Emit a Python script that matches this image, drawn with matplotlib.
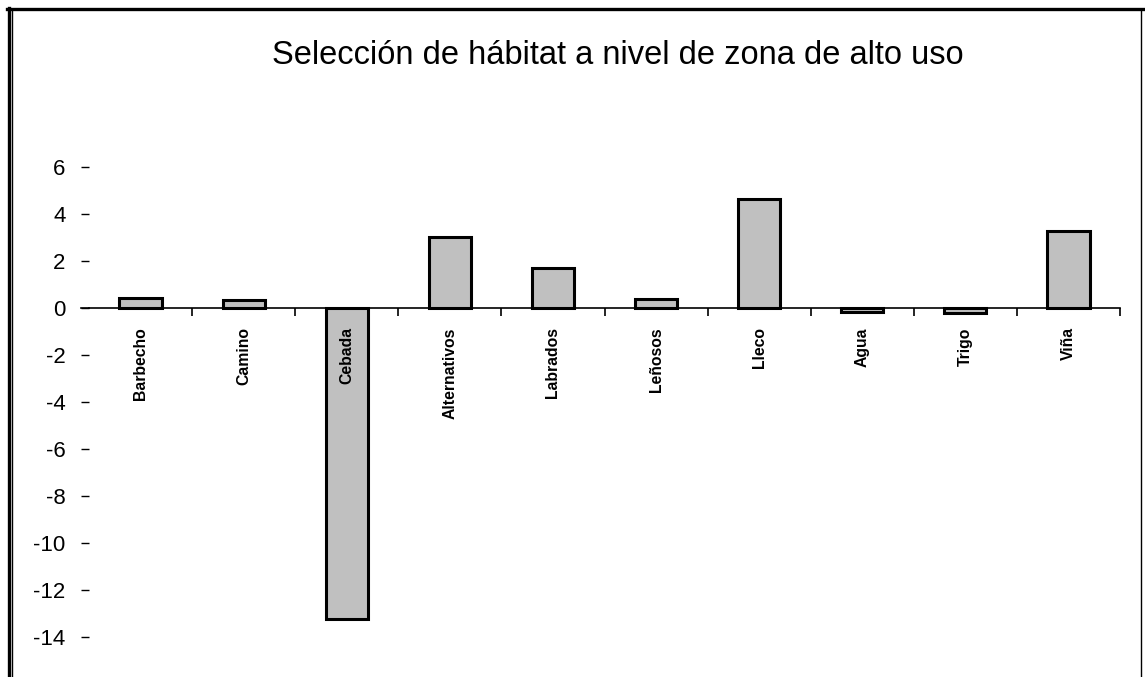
import matplotlib
matplotlib.use("Agg")
import matplotlib.pyplot as plt
from matplotlib.lines import Line2D
import numpy as np

# Habitat categories and selection index values
habitats = ["Barbecho", "Camino", "Cebada", "Alternativos", "Labrados",
            "Leñosos", "Lleco", "Agua", "Trigo", "Viña"]
selection = [0.44, 0.35, -13.25, 3.03, 1.71, 0.37, 4.62, -0.15, -0.22, 3.29]
yticks = [6, 4, 2, 0, -2, -4, -6, -8, -10, -12, -14]

plt.rcParams["font.family"] = ["Liberation Sans", "DejaVu Sans"]

W, H = 1145, 677
fig = plt.figure(figsize=(W / 100, H / 100), dpi=100)

# axes placed in pixel terms: zero line near y=308, 23.5 px per unit
x0, x1 = 89, 1120
y_top, y_bot = 7.0, -15.5
py_top = 308 - y_top * 23.5
py_bot = 308 - y_bot * 23.5
ax = fig.add_axes([x0 / W, (H - py_bot) / H, (x1 - x0) / W, (py_bot - py_top) / H])
ax.set_facecolor("none")

x = np.arange(len(habitats))
ax.bar(x, selection, width=0.41, color="#c0c0c0", edgecolor="black",
       linewidth=2.2, zorder=3)

ax.set_xlim(-0.5, len(habitats) - 0.5)
ax.set_ylim(y_bot, y_top)

for side in ["top", "right", "left"]:
    ax.spines[side].set_visible(False)
ax.spines["bottom"].set_position(("data", 0))
ax.spines["bottom"].set_linewidth(1.2)
ax.spines["bottom"].set_zorder(2)
# zero line runs a little past the value ticks on the left
ax.add_line(Line2D([-0.58, -0.5], [0, 0], color="black", linewidth=1.2,
                   clip_on=False))

ax.set_yticks(yticks)
ax.set_yticklabels([str(v) for v in yticks])
ax.tick_params(axis="y", direction="out", length=6, width=1, pad=11,
               labelsize=16)

# category boundaries get the tick marks, names sit at the centres
ax.set_xticks(np.arange(1, len(habitats) + 1) - 0.5)
ax.set_xticklabels([])
ax.tick_params(axis="x", direction="out", length=6, width=1.2)
for i, name in enumerate(habitats):
    ax.text(i, -0.82, name, rotation=90, ha="center", va="top",
            fontsize=11.3, fontweight="bold", zorder=4)

fig.text(618 / W, 1 - 55 / H, "Selección de hábitat a nivel de zona de alto uso",
         ha="center", va="center", fontsize=23.5)

# outer frame lines
frame = [
    ([7 / W, 1.0], [1 - 9 / H, 1 - 9 / H], 2.4),
    ([8.5 / W, 8.5 / W], [0, 1 - 8 / H], 2.4),
    ([12 / W, 12 / W], [0, 1 - 10 / H], 1.0),
    ([1141 / W, 1141 / W], [0, 1 - 10 / H], 1.0),
]
for xs, ys, lw in frame:
    fig.add_artist(Line2D(xs, ys, color="black", linewidth=lw,
                          transform=fig.transFigure))

fig.savefig("out.png", dpi=100)
